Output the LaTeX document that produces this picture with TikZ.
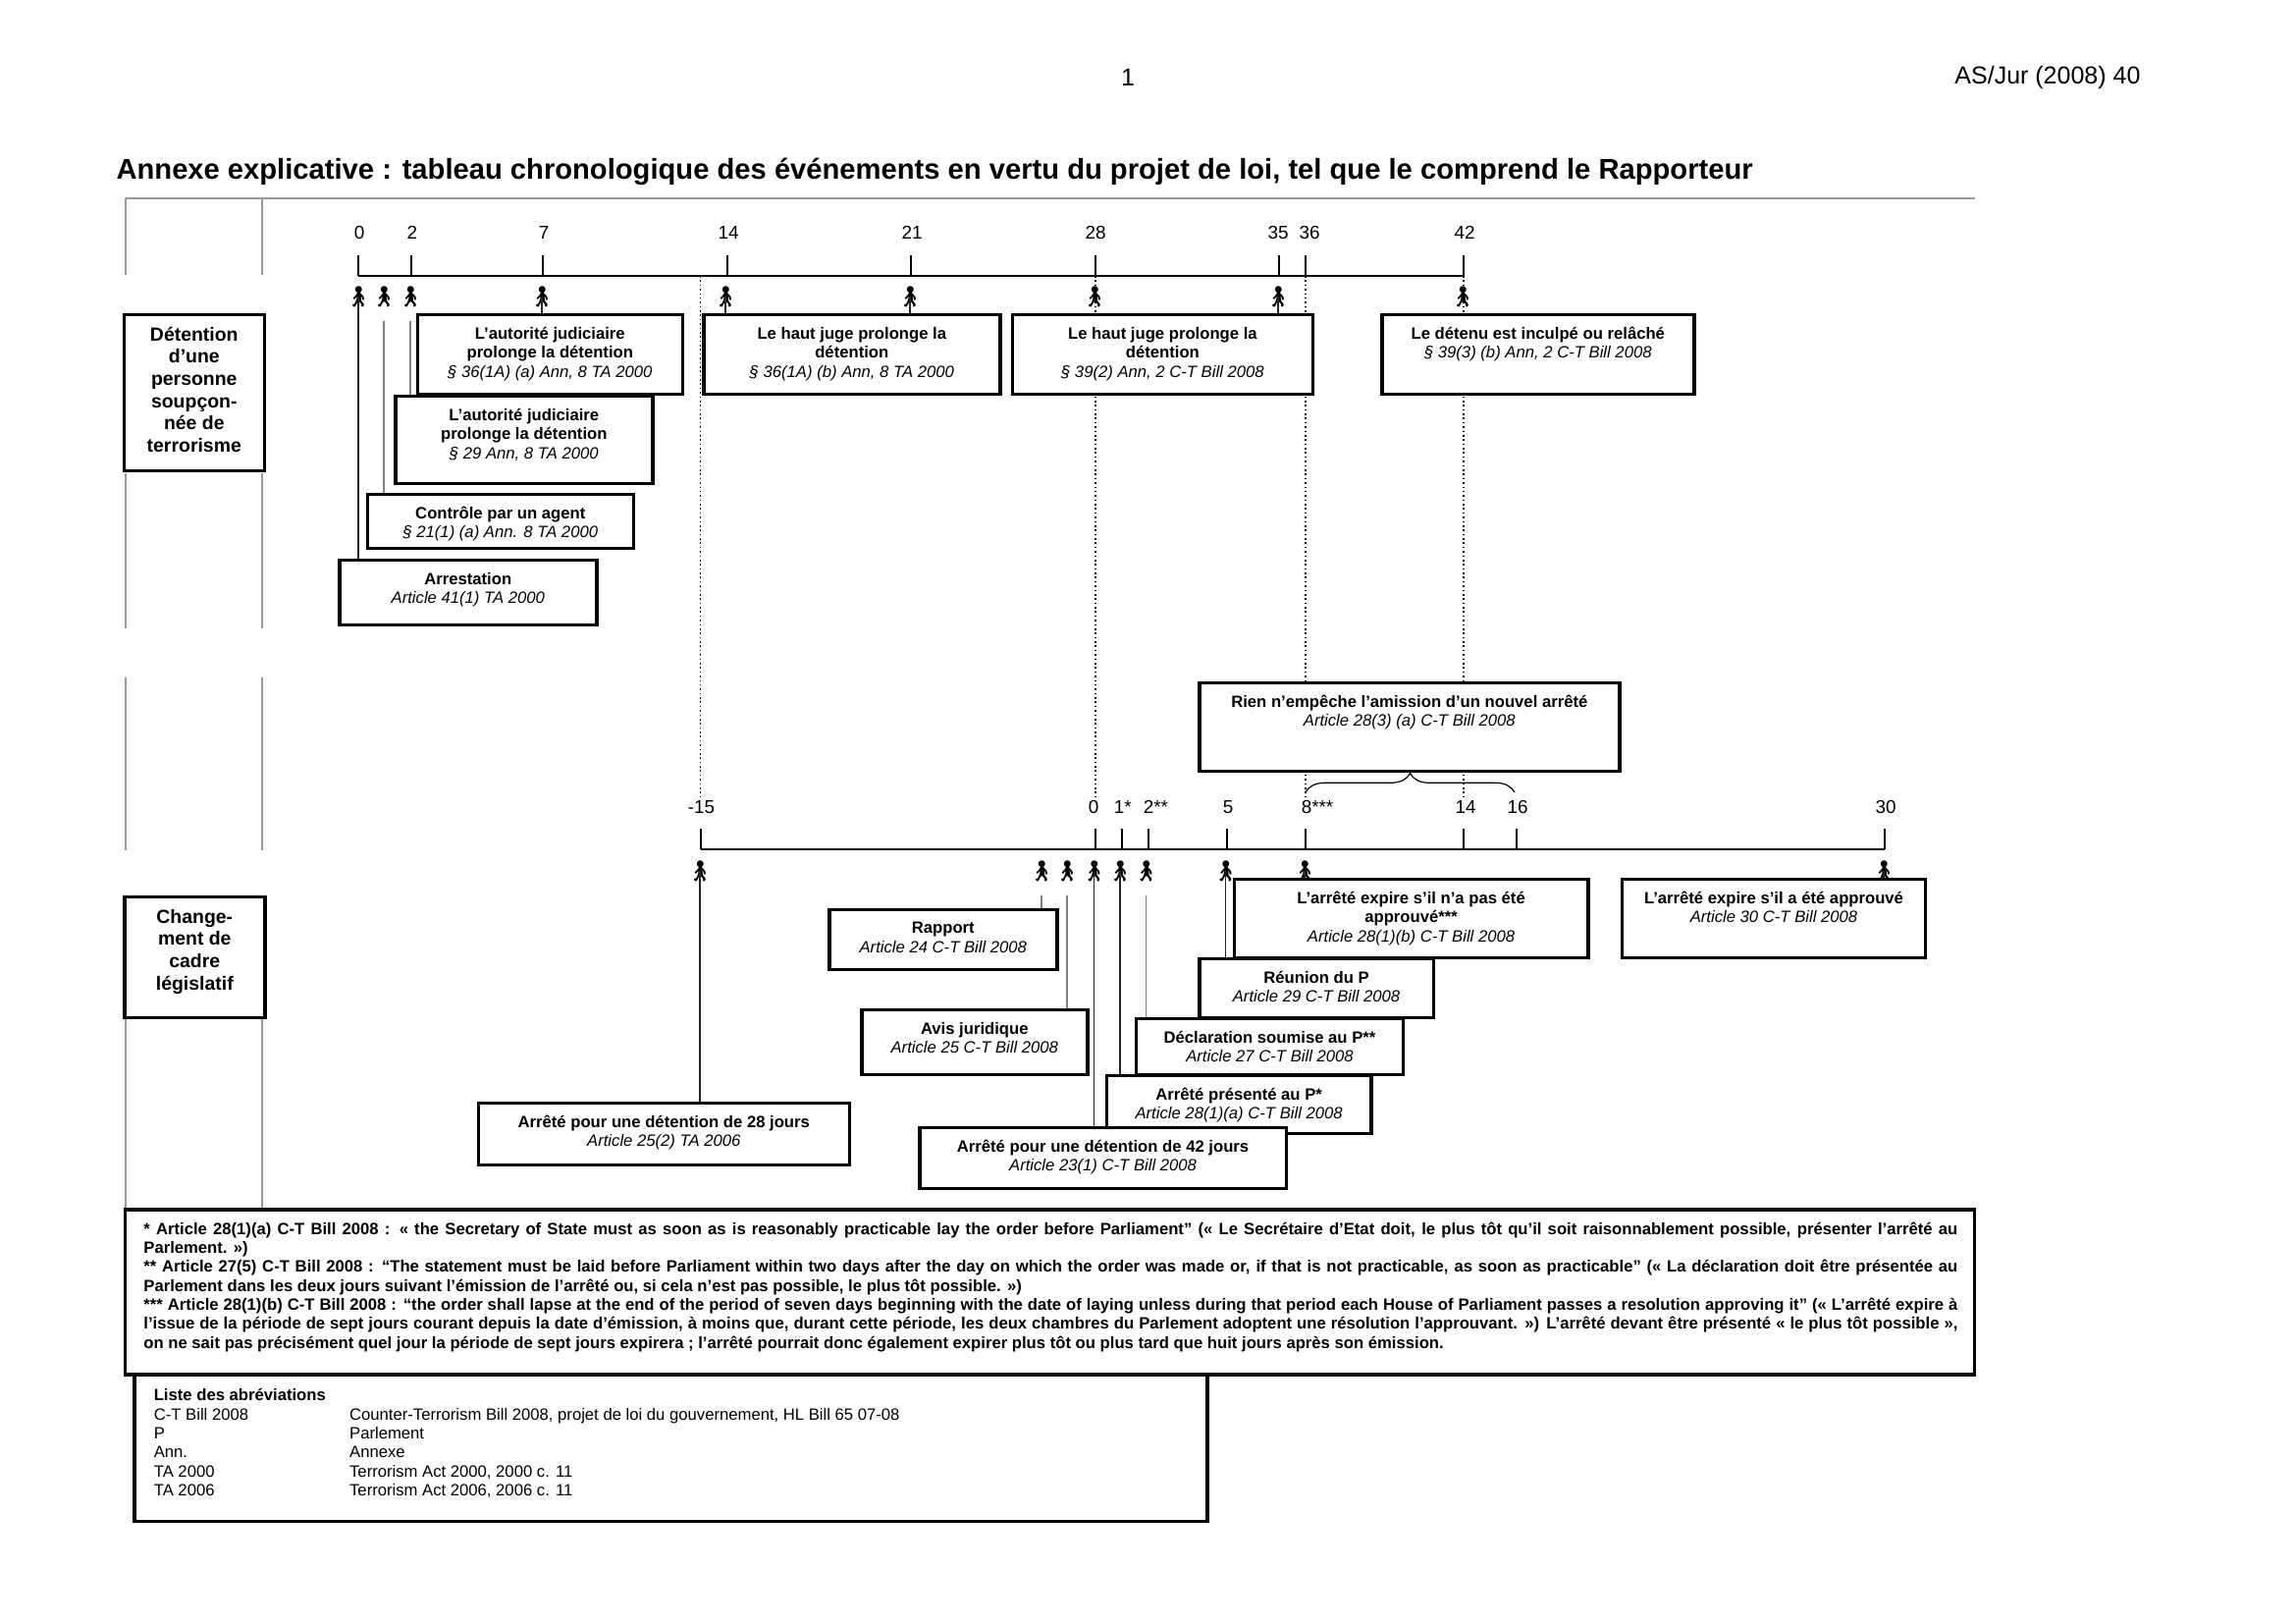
\documentclass[tikz,border=0pt]{standalone}
\usepackage{fontspec}
\setmainfont{Liberation Sans}
\newfontfamily\emojifont{Noto Emoji}
\usetikzlibrary{decorations.pathreplacing}
\newlength{\pxu}
\setlength{\pxu}{0.36pt}
\newcommand{\notealign}{\leftskip=19\pxu\rightskip=17\pxu\parfillskip=0pt plus 1fil\relax}
\tikzset{
  evbox/.style 2 args={draw=black,line width=3.6\pxu,fill=white,inner sep=0pt,anchor=north west,
    xshift=-1\pxu,yshift=0.5\pxu,font=\fontsize{6}{7}\selectfont,
    execute at begin node={\begin{minipage}[c][\dimexpr#2\pxu-2\pxu\relax][t]{\dimexpr#1\pxu-2\pxu\relax}\centering\vspace*{4.6pt}},
    execute at end node={\end{minipage}}},
  sidebox/.style={font=\fontsize{7}{8.15}\selectfont\bfseries}
}
\begin{document}
\begin{tikzpicture}[x=0.36pt,y=-0.36pt]
  \tikzstyle{framegrey}=[draw=gray!80,line width=1.2\pxu]
  \tikzstyle{axisline}=[draw=black,line width=2\pxu]
  \tikzstyle{dots}=[draw=black,line width=1.6\pxu,densely dotted]
  \tikzstyle{evline}=[draw=black!85,line width=1.3\pxu]
  \tikzstyle{evgrey}=[draw=gray,line width=1.6\pxu,shorten <=14\pxu]
  \tikzstyle{ticklab}=[inner sep=0pt,font=\fontsize{6.8}{8}\selectfont]
  \tikzstyle{walker}=[inner sep=0pt,font=\emojifont\fontsize{7.5}{8}\selectfont]
  \useasboundingbox (0,0) rectangle (2339,1653);

  \node[inner sep=0pt,font=\fontsize{9}{11}\selectfont] (pagenum) at (1149,79) {1};
  \node[inner sep=0pt,anchor=east,font=\fontsize{9}{11}\selectfont] (docref) at (2181,79) {AS/Jur (2008) 40};
  \node[inner sep=0pt,anchor=west,font=\fontsize{10.5}{14}\selectfont\bfseries] (title) at (118,175)
    {Annexe explicative : tableau chronologique des événements en vertu du projet de loi, tel que le comprend le Rapporteur};

  % grey frame
  \path[framegrey] (128,202) edge (2012,202)
        (128,202) edge (128,280)   (267,202) edge (267,280)
        (128,482) edge (128,640)   (267,482) edge (267,640)
        (128,690) edge (128,866)   (267,690) edge (267,866)
        (128,1037) edge (128,1230) (267,1037) edge (267,1230);

  % upper axis
  \foreach \nm/\x/\lx in {0/365/366,2/419/420,7/553/554,14/741/742,21/928/929,28/1116/1116,35/1303/1302,36/1330/1334,42/1491/1492}{
    \coordinate (au\nm) at (\x,281);
    \coordinate (tu\nm) at (\x,260);
    \node[ticklab] (lu\nm) at (\lx,237) {\nm};
    \path[axisline] (au\nm) edge (tu\nm);
  }
  \path[axisline] (au0) edge (au42);

  % lower axis
  \foreach \nm/\x/\lx/\lab in {m15/713.5/714.5/-15,0/1116/1114/0,1/1142.7/1140/1\rlap{*},2/1169.5/1170/2\rlap{**},5/1250/1251/5,8/1329.5/1331/8\rlap{***},14/1491/1493/14,16/1544.5/1546/16,30/1920/1921/30}{
    \coordinate (al\nm) at (\x,865);
    \coordinate (tl\nm) at (\x,844);
    \node[ticklab] (ll\nm) at (\lx,822) {\lab};
    \path[axisline] (al\nm) edge (tl\nm);
  }
  \path[axisline] (alm15) edge (al30);

  % walkers
  \foreach \nm/\x in {0/365,h/391,2/418,7/552,14/739,21/927,28/1115,35/1302,42/1490}
    \node[walker] (wu\nm) at (\x,302) {\symbol{"1F6B6}};
  \foreach \nm/\x in {m15/713,r/1061,a/1087,0/1114.5,1/1141,2/1167.5,5/1248.5,8/1329,30/1919}
    \node[walker] (wl\nm) at (\x,887) {\symbol{"1F6B6}};

  % the boxes
  \coordinate (brL) at (1330,807);
  \coordinate (brR) at (1543,807);

  \node[evbox={145}{161},sidebox] (suspect) at (125.5,319) {Détention\\d’une\\personne\\soupçon-\\née de\\terrorisme};
  \node[evbox={145}{125},sidebox] (frame) at (126,912) {Change-\\ment de\\cadre\\législatif};

  % dotted day lines, drawn first so that the boxes lie on them
  \path[dots] (au14 -| alm15) edge (llm15.north -| alm15)
        (au28) edge (ll0.north -| au28)
        (au36) edge (ll8.north -| au36)
        (au42) edge (ll14.north -| au42);

  % connectors
  \path[evline] (wu0.center) edge (365,569)
        (wu7.center) edge (552,319)
        (wu14.center) edge (739,319)
        (wu21.center) edge (927,319)
        (wu35.center) edge (1302,319)
        (wlm15.center) edge (713,1122)
        (wl0.center) edge (1114.5,1147)
        (wl1.center) edge (1141,1094)
        (wl5.center) edge (1248.5,975)
        (wl8.center) edge (1329,894)
        (wl30.center) edge (1919,894);
  \path[evgrey] (wuh) edge (391,502)
        (wu2) edge (418,402)
        (wlr) edge (1061,925)
        (wla) edge (1087,1027)
        (wl2) edge (1167.5,1036);

  \node[evbox={264}{91}] (reg) at (402,402) {\textbf{L’autorité judiciaire\\prolonge la détention}\\\textit{§ 29 Ann, 8 TA 2000}};
  \node[evbox={272}{83}] (ext) at (424.5,319) {\textbf{L’autorité judiciaire\\prolonge la détention}\\\textit{§ 36(1A) (a) Ann, 8 TA 2000}};
  \node[evbox={273}{57}] (review) at (373.5,502) {\textbf{Contrôle par un agent}\\\textit{§ 21(1) (a) Ann. 8 TA 2000}};
  \node[evbox={264}{68}] (arrest) at (345,569) {\textbf{Arrestation}\\\textit{Article 41(1) TA 2000}};
  \node[evbox={304}{83}] (judgeA) at (716,319) {\textbf{Le haut juge prolonge la\\détention}\\\textit{§ 36(1A) (b) Ann, 8 TA 2000}};
  \node[evbox={308}{83}] (judgeB) at (1030.6,319) {\textbf{Le haut juge prolonge la\\détention}\\\textit{§ 39(2) Ann, 2 C-T Bill 2008}};
  \node[evbox={320}{83}] (charged) at (1407,319) {\textbf{Le détenu est inculpé ou relâché}\\\textit{§ 39(3) (b) Ann, 2 C-T Bill 2008}};
  \node[evbox={430}{92}] (renew) at (1221,694) {\textbf{Rien n’empêche l’amission d’un nouvel arrêté}\\\textit{Article 28(3) (a) C-T Bill 2008}};

  \node[evbox={380}{65}] (old) at (486.5,1122) {\textbf{Arrêté pour une détention de 28 jours}\\\textit{Article 25(2) TA 2006}};
  \node[evbox={234}{63}] (report) at (844,925) {\textbf{Rapport}\\\textit{Article 24 C-T Bill 2008}};
  \node[evbox={232}{68}] (advice) at (877,1027) {\textbf{Avis juridique}\\\textit{Article 25 C-T Bill 2008}};
  \node[evbox={271.5}{61}] (laid) at (1126.6,1094) {\textbf{Arrêté présenté au P*}\\\textit{Article 28(1)(a) C-T Bill 2008}};
  \node[evbox={274}{59}] (statement) at (1156.7,1036) {\textbf{Déclaration soumise au P**}\\\textit{Article 27 C-T Bill 2008}};
  \node[evbox={240.5}{62}] (meeting) at (1221,975) {\textbf{Réunion du P}\\\textit{Article 29 C-T Bill 2008}};
  \node[evbox={362.5}{82}] (lapseA) at (1256.5,894) {\textbf{L’arrêté expire s’il n’a pas été\\approuvé***}\\\textit{Article 28(1)(b) C-T Bill 2008}};
  \node[evbox={311}{82}] (lapseB) at (1651.7,894) {\textbf{L’arrêté expire s’il a été approuvé}\\\textit{Article 30 C-T Bill 2008}};
  \node[evbox={375.5}{64}] (order) at (936,1147) {\textbf{Arrêté pour une détention de 42 jours}\\\textit{Article 23(1) C-T Bill 2008}};

  \draw[decorate,decoration={brace,amplitude=7pt},line width=1.2\pxu] (brL) -- (brR);

  % abbreviations, then the notes over them
  \node[evbox={1095}{155}] (abbrev) at (136,1395) {\raggedright\leftskip=20\pxu\vspace*{1.4pt}%
    \begin{tabular}[t]{@{}p{166\pxu}l}
      \multicolumn{2}{@{}l}{\textbf{Liste des abréviations}}\\
      C-T Bill 2008 & Counter-Terrorism Bill 2008, projet de loi du gouvernement, HL Bill 65 07-08\\
      P & Parlement\\
      Ann. & Annexe\\
      TA 2000 & Terrorism Act 2000, 2000 c. 11\\
      TA 2006 & Terrorism Act 2006, 2006 c. 11
    \end{tabular}\par};
  \node[evbox={1886}{170},font=\fontsize{6}{6.95}\selectfont\bfseries] (notes) at (126.6,1230.7) {\notealign
    * Article 28(1)(a) C-T Bill 2008 : « the Secretary of State must as soon as is reasonably practicable lay the order before Parliament” (« Le Secrétaire d’Etat doit, le plus tôt qu’il soit raisonnablement possible, présenter l’arrêté au\linebreak
    Parlement. »)\hfill\break
    ** Article 27(5) C-T Bill 2008 : “The statement must be laid before Parliament within two days after the day on which the order was made or, if that is not practicable, as soon as practicable” (« La déclaration doit être présentée au\linebreak
    Parlement dans les deux jours suivant l’émission de l’arrêté ou, si cela n’est pas possible, le plus tôt possible. »)\hfill\break
    *** Article 28(1)(b) C-T Bill 2008 : “the order shall lapse at the end of the period of seven days beginning with the date of laying unless during that period each House of Parliament passes a resolution approving it” (« L’arrêté expire à\linebreak
    l’issue de la période de sept jours courant depuis la date d’émission, à moins que, durant cette période, les deux chambres du Parlement adoptent une résolution l’approuvant. ») L’arrêté devant être présenté « le plus tôt possible »,\linebreak
    on ne sait pas précisément quel jour la période de sept jours expirera ; l’arrêté pourrait donc également expirer plus tôt ou plus tard que huit jours après son émission.\par};
\end{tikzpicture}
\end{document}
